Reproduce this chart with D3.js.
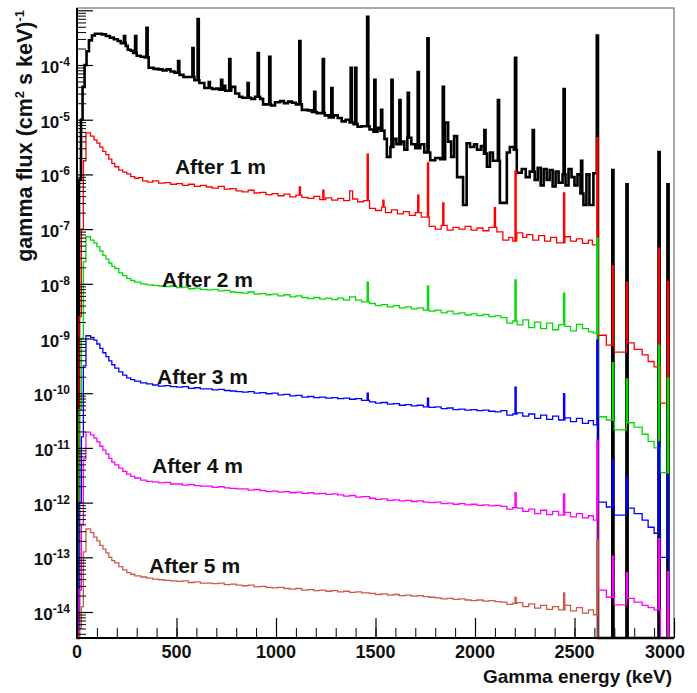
<!DOCTYPE html>
<html>
<head>
<meta charset="utf-8">
<script src="https://cdn.jsdelivr.net/npm/d3@7"></script>
<style>
  body { margin: 0; background: #fff; }
  text { font-family: "Liberation Sans", Arial, sans-serif; font-weight: bold; fill: #111; }
</style>
</head>
<body>
<div id="chart"></div>
<script>
// spectra are stored as log10(flux); each entry is [bin start keV, log10 flux], null = empty bin
var contBare = [
  [0, null], [10, -6.1], [20, -5.0], [28, -4.4], [38, -4.0], [48, -3.75], [60, -3.55], [75, -3.46],
  [90, -3.43], [125, -3.44], [145, -3.47], [165, -3.50], [185, -3.53], [205, -3.56], [220, -3.60],
  [245, -3.65], [255, -3.72], [270, -3.74], [282, -3.78], [300, -3.83], [320, -3.85], [340, -3.86],
  [360, -4.05], [385, -4.07], [410, -4.08], [430, -4.10], [450, -4.08], [470, -4.12], [490, -4.14],
  [515, -4.18], [535, -4.22], [560, -4.22], [590, -4.28], [615, -4.33], [640, -4.42], [660, -4.42],
  [680, -4.44], [700, -4.43], [715, -4.45], [735, -4.38], [745, -4.47], [775, -4.40], [795, -4.52],
  [815, -4.58], [830, -4.60], [850, -4.60], [875, -4.62], [895, -4.58], [920, -4.62], [935, -4.72],
  [975, -4.74], [995, -4.68], [1020, -4.66], [1040, -4.70], [1060, -4.67], [1080, -4.69], [1100, -4.72],
  [1130, -4.82], [1160, -4.83], [1180, -4.86], [1205, -4.88], [1245, -4.92], [1265, -4.96], [1290, -4.92],
  [1310, -4.97], [1330, -5.03], [1350, -5.00], [1370, -5.05], [1390, -5.08], [1410, -5.13], [1430, -5.12],
  [1470, -5.18], [1490, -5.22], [1510, -5.15], [1525, -5.20], [1545, -5.35], [1557, -5.68], [1575, -5.50],
  [1590, -5.35], [1605, -5.45], [1630, -5.40], [1645, -5.55], [1660, -5.33], [1680, -5.45], [1700, -5.52],
  [1725, -5.45], [1745, -5.60], [1775, -5.74], [1800, -5.70], [1825, -5.72], [1850, -5.05], [1865, -5.40],
  [1880, -5.68], [1895, -5.30], [1910, -6.05], [1940, -6.56], [1958, -5.43], [1975, -5.50], [1995, -5.45],
  [2010, -5.55], [2030, -5.48], [2045, -5.62], [2060, -5.86], [2075, -5.60], [2090, -5.75], [2125, -6.52],
  [2160, -5.60], [2175, -5.50], [2195, -5.55], [2210, -5.97], [2235, -5.90], [2255, -6.05], [2275, -5.95],
  [2300, -6.10], [2315, -5.88], [2330, -6.20], [2345, -5.90], [2360, -6.10], [2375, -5.92], [2390, -6.22],
  [2405, -5.95], [2420, -6.15], [2440, -6.00], [2455, -6.20], [2470, -5.90], [2485, -6.05], [2500, -6.20],
  [2515, -6.00], [2530, -6.35], [2545, -6.56], [2560, -6.00], [2575, -6.56], [2595, -5.98], [2618, null]
];
var peaksBare = [
  [239, -3.47], [295, -3.47], [352, -3.32], [511, -3.93], [583, -3.69], [609, -3.16], [665, -4.31],
  [727, -4.27], [768, -3.89], [860, -4.33], [911, -3.78], [969, -3.85], [1120, -3.56], [1195, -4.49],
  [1238, -3.89], [1281, -4.42], [1378, -4.05], [1401, -4.05], [1461, -3.12], [1497, -4.27], [1531, -4.82],
  [1583, -4.27], [1623, -4.64], [1665, -4.51], [1715, -4.13], [1764, -3.51], [1841, -4.40], [2050, -5.19],
  [2118, -4.64], [2204, -3.87], [2293, -5.19], [2448, -4.44], [2536, -5.75], [2615, -3.46],
  [2693, -5.92], [2764, -6.18], [2925, -5.59], [2970, -6.18]
];

var cont1m = [
  [0, null], [10, -8.6], [22, -7.0], [32, -5.75], [45, -5.24], [68, -5.30], [85, -5.37], [100, -5.43],
  [115, -5.50], [130, -5.58], [145, -5.64], [160, -5.72], [175, -5.80], [190, -5.86], [210, -5.92],
  [230, -5.96], [250, -5.99], [270, -6.04], [290, -6.07], [310, -6.06], [330, -6.12], [355, -6.14],
  [380, -6.12], [410, -6.16], [440, -6.15], [470, -6.18], [500, -6.17], [530, -6.20], [560, -6.18],
  [590, -6.22], [620, -6.20], [650, -6.23], [680, -6.25], [710, -6.22], [740, -6.27], [770, -6.26],
  [800, -6.30], [830, -6.32], [860, -6.29], [890, -6.34], [920, -6.33], [950, -6.37], [980, -6.35],
  [1010, -6.39], [1040, -6.36], [1070, -6.41], [1100, -6.38], [1130, -6.42], [1160, -6.44], [1190, -6.40],
  [1220, -6.46], [1250, -6.43], [1280, -6.47], [1310, -6.44], [1340, -6.48], [1370, -6.30], [1385, -6.45],
  [1410, -6.50], [1440, -6.48], [1470, -6.62], [1500, -6.66], [1530, -6.60], [1550, -6.70], [1580, -6.65],
  [1610, -6.72], [1640, -6.68], [1670, -6.75], [1700, -6.70], [1730, -6.78], [1770, -6.95], [1800, -7.00],
  [1830, -6.93], [1860, -7.02], [1890, -6.97], [1920, -7.00], [1950, -6.95], [1980, -7.02], [2010, -6.98],
  [2040, -7.03], [2070, -6.97], [2110, -7.05], [2140, -7.20], [2170, -7.15], [2190, -7.22], [2210, -7.07],
  [2240, -7.15], [2260, -7.10], [2290, -7.20], [2320, -7.12], [2350, -7.22], [2380, -7.15], [2410, -7.25],
  [2452, -7.14], [2480, -7.22], [2510, -7.18], [2540, -7.26], [2570, -7.20], [2590, -7.29],
  [2618, -8.94], [2660, -9.12], [2700, -9.25], [2765, -9.08], [2800, -9.20], [2840, -9.30], [2870, -9.42],
  [2900, -9.52], [2932, -10.18], [2973, null]
];
var peaks1m = [
  [1120, -6.23], [1238, -6.29], [1461, -5.63], [1540, -6.47], [1715, -6.38], [1764, -5.79], [1841, -6.52],
  [2100, -6.61], [2204, -5.94], [2448, -6.34], [2615, -5.33],
  [2693, -7.67], [2764, -7.97], [2925, -7.35], [2970, -7.95]
];

var cont2m = [
  [0, null], [10, -10.3], [22, -9.0], [32, -7.6], [45, -7.14], [68, -7.20], [85, -7.25], [100, -7.32],
  [115, -7.40], [130, -7.48], [145, -7.55], [160, -7.62], [175, -7.68], [190, -7.72], [210, -7.80],
  [230, -7.85], [250, -7.90], [270, -7.94], [290, -7.97], [320, -8.00], [350, -8.02], [380, -8.03],
  [410, -8.04], [440, -8.05], [470, -8.04], [500, -8.07], [530, -8.06], [560, -8.09], [590, -8.08],
  [620, -8.10], [650, -8.11], [680, -8.10], [710, -8.13], [740, -8.12], [770, -8.15], [800, -8.16],
  [830, -8.17], [860, -8.15], [890, -8.19], [920, -8.18], [950, -8.20], [980, -8.19], [1010, -8.22],
  [1040, -8.20], [1070, -8.24], [1100, -8.22], [1130, -8.25], [1160, -8.27], [1190, -8.25], [1220, -8.28],
  [1250, -8.26], [1280, -8.29], [1310, -8.26], [1340, -8.30], [1370, -8.24], [1400, -8.30], [1430, -8.33],
  [1470, -8.36], [1500, -8.40], [1530, -8.38], [1560, -8.42], [1590, -8.40], [1620, -8.44], [1650, -8.42],
  [1680, -8.46], [1710, -8.44], [1740, -8.48], [1770, -8.50], [1800, -8.48], [1830, -8.53], [1860, -8.50],
  [1890, -8.55], [1920, -8.53], [1950, -8.57], [1980, -8.55], [2010, -8.58], [2040, -8.56], [2070, -8.60],
  [2100, -8.58], [2130, -8.62], [2160, -8.72], [2190, -8.68], [2212, -8.75], [2240, -8.66], [2270, -8.80],
  [2300, -8.70], [2330, -8.82], [2360, -8.72], [2390, -8.84], [2420, -8.75], [2452, -8.78], [2480, -8.86],
  [2510, -8.74], [2540, -8.82], [2570, -8.88], [2595, -8.90],
  [2618, -10.43], [2660, -10.49], [2700, -10.67], [2765, -10.54], [2800, -10.62], [2840, -10.75],
  [2870, -10.88], [2900, -11.00], [2932, -11.45], [2973, null]
];
var peaks2m = [
  [1461, -7.97], [1764, -8.04], [2204, -7.93], [2448, -8.17], [2615, -7.16],
  [2693, -9.44], [2764, -9.74], [2925, -9.12], [2970, -9.72]
];

var cont3m = [
  [0, null], [10, -12.0], [22, -10.8], [32, -9.5], [45, -8.95], [68, -8.98], [85, -9.03], [100, -9.10],
  [115, -9.18], [130, -9.26], [145, -9.33], [160, -9.41], [175, -9.48], [190, -9.54], [210, -9.61],
  [230, -9.67], [250, -9.72], [270, -9.75], [290, -9.78], [320, -9.81], [350, -9.83], [380, -9.85],
  [410, -9.87], [440, -9.86], [470, -9.88], [500, -9.89], [530, -9.88], [560, -9.91], [590, -9.90],
  [620, -9.92], [650, -9.92], [680, -9.94], [710, -9.93], [740, -9.95], [770, -9.96], [800, -9.97],
  [830, -9.98], [860, -9.97], [890, -10.00], [920, -9.99], [950, -10.01], [980, -10.00], [1010, -10.03],
  [1040, -10.02], [1070, -10.05], [1100, -10.04], [1130, -10.07], [1160, -10.06], [1190, -10.08],
  [1220, -10.07], [1250, -10.09], [1280, -10.08], [1310, -10.10], [1340, -10.09], [1370, -10.11],
  [1400, -10.10], [1430, -10.13], [1470, -10.16], [1500, -10.18], [1530, -10.17], [1560, -10.20],
  [1590, -10.19], [1620, -10.22], [1650, -10.21], [1680, -10.23], [1710, -10.22], [1740, -10.25],
  [1770, -10.26], [1800, -10.25], [1830, -10.28], [1860, -10.27], [1890, -10.30], [1920, -10.29],
  [1950, -10.31], [1980, -10.30], [2010, -10.32], [2040, -10.31], [2070, -10.33], [2100, -10.34],
  [2130, -10.32], [2160, -10.40], [2190, -10.38], [2212, -10.36], [2240, -10.42], [2270, -10.38],
  [2300, -10.46], [2330, -10.40], [2360, -10.48], [2390, -10.42], [2420, -10.49], [2452, -10.45],
  [2480, -10.52], [2510, -10.46], [2540, -10.55], [2570, -10.50], [2595, -10.58],
  [2618, -11.99], [2660, -12.08], [2700, -12.23], [2765, -12.10], [2800, -12.20], [2840, -12.32],
  [2870, -12.45], [2900, -12.56], [2932, -13.00], [2973, null]
];
var peaks3m = [
  [1461, -10.00], [1764, -10.09], [2204, -9.89], [2448, -10.01], [2615, -9.03],
  [2693, -11.21], [2764, -11.51], [2925, -10.89], [2970, -11.49]
];

var cont4m = [
  [0, null], [10, -13.6], [22, -12.4], [32, -11.2], [45, -10.71], [68, -10.76], [85, -10.82], [100, -10.89],
  [115, -10.97], [130, -11.04], [145, -11.11], [160, -11.19], [175, -11.26], [190, -11.31], [210, -11.37],
  [230, -11.43], [250, -11.48], [270, -11.52], [290, -11.55], [320, -11.59], [350, -11.61], [380, -11.62],
  [410, -11.64], [440, -11.63], [470, -11.66], [500, -11.66], [530, -11.68], [560, -11.67], [590, -11.69],
  [620, -11.70], [650, -11.70], [680, -11.72], [710, -11.71], [740, -11.73], [770, -11.74], [800, -11.75],
  [830, -11.75], [860, -11.77], [890, -11.76], [920, -11.78], [950, -11.80], [980, -11.79], [1010, -11.81],
  [1040, -11.80], [1070, -11.82], [1100, -11.81], [1130, -11.83], [1160, -11.82], [1190, -11.84],
  [1220, -11.83], [1250, -11.85], [1280, -11.84], [1310, -11.86], [1340, -11.88], [1370, -11.87],
  [1400, -11.90], [1430, -11.89], [1470, -11.92], [1500, -11.94], [1530, -11.93], [1560, -11.96],
  [1590, -11.95], [1620, -11.97], [1650, -11.96], [1680, -11.98], [1710, -11.97], [1740, -11.99],
  [1770, -12.00], [1800, -11.99], [1830, -12.02], [1860, -12.01], [1890, -12.03], [1920, -12.02],
  [1950, -12.04], [1980, -12.03], [2010, -12.05], [2040, -12.04], [2070, -12.06], [2100, -12.05],
  [2130, -12.07], [2160, -12.12], [2190, -12.09], [2212, -12.10], [2240, -12.16], [2270, -12.12],
  [2300, -12.20], [2330, -12.14], [2360, -12.22], [2390, -12.16], [2420, -12.23], [2452, -12.18],
  [2480, -12.26], [2510, -12.20], [2540, -12.28], [2570, -12.24], [2595, -12.32],
  [2618, -13.60], [2660, -13.73], [2700, -13.87], [2765, -13.75], [2800, -13.82], [2840, -13.88],
  [2870, -13.92], [2900, -13.96], [2932, null]
];
var peaks4m = [
  [2204, -11.82], [2448, -11.84], [2615, -10.86],
  [2693, -12.98], [2764, -13.28], [2925, -12.66], [2970, -13.26]
];

var cont5m = [
  [0, null], [10, -14.3], [22, -13.9], [32, -12.9], [45, -12.48], [68, -12.55], [85, -12.63], [100, -12.70],
  [115, -12.78], [130, -12.85], [145, -12.92], [160, -13.00], [175, -13.06], [190, -13.10], [210, -13.17],
  [230, -13.23], [250, -13.28], [270, -13.31], [290, -13.34], [320, -13.36], [350, -13.38], [380, -13.40],
  [410, -13.41], [440, -13.42], [470, -13.43], [500, -13.44], [530, -13.43], [560, -13.46], [590, -13.45],
  [620, -13.47], [650, -13.47], [680, -13.48], [710, -13.47], [740, -13.50], [770, -13.49], [800, -13.51],
  [830, -13.52], [860, -13.51], [890, -13.54], [920, -13.53], [950, -13.55], [980, -13.56], [1010, -13.55],
  [1040, -13.57], [1070, -13.58], [1100, -13.57], [1130, -13.60], [1160, -13.59], [1190, -13.61],
  [1220, -13.60], [1250, -13.62], [1280, -13.61], [1310, -13.63], [1340, -13.62], [1370, -13.64],
  [1400, -13.63], [1430, -13.65], [1470, -13.66], [1500, -13.68], [1530, -13.67], [1560, -13.69],
  [1590, -13.68], [1620, -13.70], [1650, -13.69], [1680, -13.71], [1710, -13.70], [1740, -13.72],
  [1770, -13.73], [1800, -13.74], [1830, -13.76], [1860, -13.75], [1890, -13.77], [1920, -13.76],
  [1950, -13.78], [1980, -13.79], [2010, -13.78], [2040, -13.80], [2070, -13.79], [2100, -13.81],
  [2130, -13.82], [2160, -13.86], [2190, -13.84], [2212, -13.83], [2240, -13.90], [2270, -13.85],
  [2300, -13.93], [2330, -13.88], [2360, -13.95], [2390, -13.90], [2420, -13.96], [2452, -13.88],
  [2480, -13.98], [2510, -13.92], [2540, -14.02], [2570, -13.96], [2595, -14.05], [2618, null]
];
var peaks5m = [[2204, -13.73], [2448, -13.65], [2615, -12.68]];

var seriesLabels = ["After 1 m", "After 2 m", "After 3 m", "After 4 m", "After 5 m"];
var xTickValues = [0, 500, 1000, 1500, 2000, 2500, 3000];
var yDecades = [-14, -13, -12, -11, -10, -9, -8, -7, -6, -5, -4];

var W = 697, H = 693;
var plotL = 77, plotR = 674, plotT = 8, plotB = 638;

var svg = d3.select("#chart").append("svg")
  .attr("width", W)
  .attr("height", H);

var x = d3.scaleLinear().domain([0, 3000]).range([plotL, plotR]);
var y = d3.scaleLog()
  .domain([Math.pow(10, -14.475), Math.pow(10, -2.958)])
  .range([plotB, plotT])
  .clamp(true);

var yPos = function(v) { return v === null ? plotB : y(Math.pow(10, v)); };

// merge continuum steps and narrow peak bins into one step list
var buildSteps = function(cont, peaks) {
  var valueAt = function(e) {
    var v = null;
    cont.forEach(function(d) { if (d[0] <= e) v = d[1]; });
    return v;
  };
  var half = 3;
  var edges = cont.map(function(d) { return d[0]; });
  peaks.forEach(function(p) { edges.push(p[0] - half, p[0] + half); });
  edges.push(3000);
  edges = Array.from(new Set(edges)).sort(function(a, b) { return a - b; });
  var pts = [];
  edges.forEach(function(e) {
    var pk = peaks.find(function(p) { return e >= p[0] - half && e < p[0] + half; });
    pts.push([e, pk ? pk[1] : valueAt(e)]);
  });
  return pts;
};

// frame
svg.append("rect")
  .attr("x", plotL).attr("y", plotT)
  .attr("width", plotR - plotL).attr("height", plotB - plotT)
  .attr("fill", "none")
  .attr("stroke", "#555")
  .attr("stroke-width", 1);

var line = d3.line()
  .x(function(d) { return x(d[0]); })
  .y(function(d) { return yPos(d[1]); })
  .curve(d3.curveStepAfter);

var series = [
  { cont: contBare, peaks: peaksBare, color: "#000000", width: 2.6 },
  { cont: cont1m, peaks: peaks1m, color: "#ff0000", width: 1.3 },
  { cont: cont2m, peaks: peaks2m, color: "#00dd00", width: 1.3 },
  { cont: cont3m, peaks: peaks3m, color: "#0000ff", width: 1.3 },
  { cont: cont4m, peaks: peaks4m, color: "#ff00ff", width: 1.3 },
  { cont: cont5m, peaks: peaks5m, color: "#cc5a4a", width: 1.3 }
];

series.forEach(function(s) {
  svg.append("path")
    .attr("d", line(buildSteps(s.cont, s.peaks)))
    .attr("fill", "none")
    .attr("stroke", s.color)
    .attr("stroke-width", s.width)
    .attr("stroke-linejoin", "miter");
});

// series labels, anchored in data units (keV, log10 flux)
var labelAnchors = [[492, -5.99], [427, -8.06], [402, -9.83], [377, -11.46], [362, -13.29]];
svg.selectAll(".slabel")
  .data(seriesLabels)
  .enter().append("text")
  .attr("class", "slabel")
  .attr("x", function(d, i) { return x(labelAnchors[i][0]); })
  .attr("y", function(d, i) { return yPos(labelAnchors[i][1]); })
  .style("font-size", "21px")
  .text(function(d) { return d; });

// x axis: minor every 100 keV, major every 500 keV, ticks pointing up
var xMinor = d3.range(0, 3001, 100);
svg.append("g")
  .attr("transform", "translate(0," + plotB + ")")
  .call(d3.axisTop(x).tickValues(xMinor).tickSize(10).tickFormat(""))
  .call(function(g) { g.select(".domain").remove(); })
  .selectAll("line").attr("stroke", "#000").attr("stroke-width", 1);
svg.append("g")
  .attr("transform", "translate(0," + plotB + ")")
  .call(d3.axisTop(x).tickValues(xTickValues).tickSize(20).tickFormat(""))
  .call(function(g) { g.select(".domain").remove(); })
  .selectAll("line").attr("stroke", "#000").attr("stroke-width", 1.2);

svg.selectAll(".xlabel")
  .data(xTickValues)
  .enter().append("text")
  .attr("class", "xlabel")
  .attr("x", function(d) { return d === 3000 ? x(d) - 9 : x(d); })
  .attr("y", 658)
  .attr("text-anchor", "middle")
  .style("font-size", "18px")
  .text(function(d) { return d; });

// y axis: log ticks pointing right
var yMinor = [];
for (var k = -15; k <= -3; k++) {
  for (var m = 2; m <= 9; m++) {
    var v = m * Math.pow(10, k);
    if (v >= y.domain()[0] && v <= y.domain()[1]) yMinor.push(v);
  }
}
var yMajor = [];
for (var k2 = -15; k2 <= -3; k2++) {
  var v2 = Math.pow(10, k2);
  if (v2 >= y.domain()[0] && v2 <= y.domain()[1]) yMajor.push(v2);
}
svg.append("g")
  .attr("transform", "translate(" + plotL + ",0)")
  .call(d3.axisRight(y).tickValues(yMinor).tickSize(9).tickFormat(""))
  .call(function(g) { g.select(".domain").remove(); })
  .selectAll("line").attr("stroke", "#000").attr("stroke-width", 1);
svg.append("g")
  .attr("transform", "translate(" + plotL + ",0)")
  .call(d3.axisRight(y).tickValues(yMajor).tickSize(16).tickFormat(""))
  .call(function(g) { g.select(".domain").remove(); })
  .selectAll("line").attr("stroke", "#000").attr("stroke-width", 1.2);

var ylab = svg.selectAll(".ylabel")
  .data(yDecades)
  .enter().append("text")
  .attr("class", "ylabel")
  .attr("x", 70)
  .attr("y", function(d) { return y(Math.pow(10, d)) + 8; })
  .attr("text-anchor", "end")
  .style("font-size", "17px");
ylab.append("tspan").text("10");
ylab.append("tspan")
  .attr("dy", -7)
  .style("font-size", "12px")
  .text(function(d) { return d; });

// axis lines
svg.append("line")
  .attr("x1", plotL).attr("x2", plotL).attr("y1", plotT).attr("y2", plotB + 1)
  .attr("stroke", "#000").attr("stroke-width", 2);
svg.append("line")
  .attr("x1", plotL - 1).attr("x2", plotR).attr("y1", plotB).attr("y2", plotB)
  .attr("stroke", "#000").attr("stroke-width", 2);

// axis titles
svg.append("text")
  .attr("x", 672)
  .attr("y", 683)
  .attr("text-anchor", "end")
  .style("font-size", "19px")
  .text("Gamma energy (keV)");

var yt = svg.append("text")
  .attr("transform", "translate(32,10) rotate(-90)")
  .attr("text-anchor", "end")
  .style("font-size", "21.5px");
yt.append("tspan").text("gamma flux (cm");
yt.append("tspan").attr("dy", -8).style("font-size", "13px").text("2");
yt.append("tspan").attr("dy", 8).text(" s  keV)");
yt.append("tspan").attr("dy", -8).style("font-size", "13px").text("-1");
</script>
</body>
</html>
